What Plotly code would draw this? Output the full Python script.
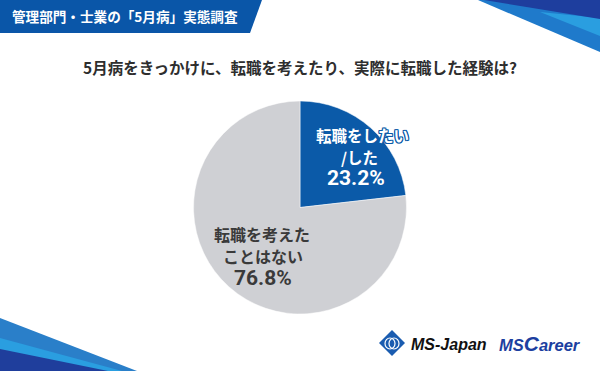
import plotly.graph_objects as go

W, H = 600, 371

header_title = "管理部門・士業の「5月病」実態調査"
question = "5月病をきっかけに、転職を考えたり、実際に転職した経験は?"
categories = ["転職をしたい/した", "転職を考えたことはない"]
label_lines = [["転職をしたい", "/した"], ["転職を考えた", "ことはない"]]
values = [23.2, 76.8]
colors = ["#0b5aa8", "#cfd0d4"]
text_colors = ["#ffffff", "#3a3a3a"]

def px(x):
    return x / W

def py(y):
    return 1 - y / H

def path(points):
    s = "M " + " L ".join(f"{px(x):.5f},{py(y):.5f}" for x, y in points) + " Z"
    return s

fig = go.Figure()
fig.add_trace(go.Pie(
    labels=categories, values=values, sort=False, direction="clockwise",
    rotation=0, marker=dict(colors=colors, line=dict(color="#ffffff", width=0.5)),
    textinfo="none", hoverinfo="label+percent", showlegend=False,
    domain=dict(x=[px(190), px(410)], y=[py(314), py(101)]),
))

shapes = []
def poly(points, color):
    shapes.append(dict(type="path", xref="paper", yref="paper", path=path(points),
                       fillcolor=color, line=dict(width=0), layer="above"))

# header banner
poly([(0, 0), (262, 0), (250, 33), (0, 33)], "#0a56a8")
# top-right decoration
poly([(478, 0), (600, 0), (600, 52)], "#1f7acb")
poly([(540, 12), (600, 18), (600, 36)], "#2a9ee0")
poly([(484, 0), (600, 0), (600, 19)], "#1e3e9e")
# bottom-left decoration
poly([(0, 318), (137, 371), (0, 371)], "#2a7fc9")
poly([(0, 338), (122, 371), (0, 371)], "#2a9ee0")
poly([(0, 349), (108, 371), (0, 371)], "#1f3e9c")
# MS-Japan diamond logo
poly([(392, 330), (405, 343), (392, 356), (379, 343)], "#1a5cb0")
shapes.append(dict(type="circle", xref="paper", yref="paper",
                   x0=px(385), x1=px(395), y0=py(349), y1=py(338),
                   line=dict(color="white", width=1.2)))
shapes.append(dict(type="circle", xref="paper", yref="paper",
                   x0=px(389), x1=px(399), y0=py(349), y1=py(338),
                   line=dict(color="white", width=1.2)))

ann = []
def text(x, y, t, size, color, bold=True, anchor="center", italic=False,
         family="Noto Sans CJK JP", shadow=None):
    if bold:
        t = f"<b>{t}</b>"
    if italic:
        t = f"<i>{t}</i>"
    font = dict(size=size, color=color, family=family)
    if shadow:
        font["shadow"] = shadow
    ann.append(dict(xref="paper", yref="paper", x=px(x), y=py(y), text=t, showarrow=False,
                    xanchor=anchor, yanchor="middle", font=font))

outline = ("-1px 0 0 #0b5aa8, 1px 0 0 #0b5aa8, 0 -1px 0 #0b5aa8, 0 1px 0 #0b5aa8, "
           "-1px -1px 0 #0b5aa8, 1px 1px 0 #0b5aa8, -1px 1px 0 #0b5aa8, 1px -1px 0 #0b5aa8")

text(10, 16, header_title, 13.6, "#ffffff", anchor="left")
text(300, 67, question, 15.5, "#2e2e2e")

# slice labels
text(362, 135, label_lines[0][0], 15.5, text_colors[0], shadow=outline)
text(359, 157, label_lines[0][1], 15.5, text_colors[0])
text(356, 178, f"{values[0]}%", 21, text_colors[0], family="Roboto")
text(262, 234, label_lines[1][0], 16, text_colors[1])
text(263, 256, label_lines[1][1], 16, text_colors[1])
text(263, 278, f"{values[1]}%", 21, text_colors[1], family="Roboto")

# logos
text(409, 344, "MS-Japan", 16, "#111111", anchor="left", italic=True,
     family="Arial, Liberation Sans")
ann.append(dict(xref="paper", yref="paper", x=px(497), y=py(343),
                text="<b><i>MS<span style='font-size:21px'>C</span>areer</i></b>",
                showarrow=False, xanchor="left", yanchor="middle",
                font=dict(size=16.5, color="#1c3fa0", family="Liberation Sans")))

fig.update_layout(width=W, height=H, margin=dict(l=0, r=0, t=0, b=0),
                  paper_bgcolor="white", plot_bgcolor="white",
                  shapes=shapes, annotations=ann)
fig.write_html("out.html", config={"displayModeBar": False},
               post_script="document.body.style.margin='0';")
